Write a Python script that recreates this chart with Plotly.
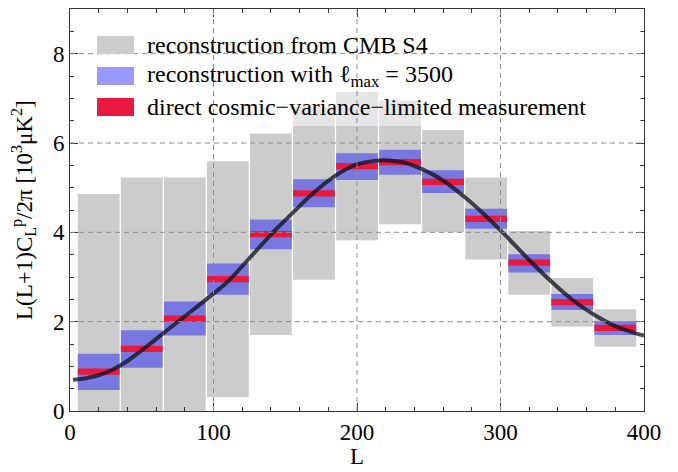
import plotly.graph_objects as go

# ---- data ----
bin_centers = [20, 50, 80, 110, 140, 170, 200, 230, 260, 290, 320, 350, 380]
bin_width = 30
s4_high = [4.86, 5.23, 5.23, 5.59, 6.21, 6.80, 7.14, 6.95, 6.29, 5.23, 4.03, 2.98, 2.28]
s4_low = [-0.5, -0.5, -0.5, 0.31, 1.70, 2.94, 3.82, 4.18, 4.00, 3.39, 2.60, 1.89, 1.44]
lmax_high = [1.28, 1.81, 2.45, 3.30, 4.29, 5.19, 5.77, 5.85, 5.39, 4.53, 3.51, 2.62, 2.01]
lmax_low = [0.47, 0.97, 1.69, 2.60, 3.62, 4.56, 5.17, 5.29, 4.88, 4.08, 3.10, 2.26, 1.70]
cv_value = [0.88, 1.39, 2.07, 2.95, 3.96, 4.87, 5.48, 5.57, 5.13, 4.30, 3.32, 2.44, 1.86]
cv_halfwidth = 0.07

curve_L = [2, 6, 12, 20, 30, 40, 50, 65, 80, 95, 110, 125, 140, 155, 170, 185,
           200, 212, 222, 232, 245, 260, 275, 290, 305, 320, 335, 350, 365,
           380, 392, 400]
curve_val = [0.70, 0.71, 0.74, 0.80, 0.93, 1.12, 1.36, 1.74, 2.12, 2.50, 2.90, 3.42, 3.95,
             4.43, 4.89, 5.27, 5.52, 5.60, 5.61, 5.57, 5.42, 5.16, 4.79, 4.36, 3.88,
             3.38, 2.91, 2.49, 2.16, 1.90, 1.76, 1.69]

x_ticks = [0, 100, 200, 300, 400]
y_ticks = [0, 2, 4, 6, 8]
legend_labels = [
    "reconstruction from CMB S4",
    "reconstruction with \u2113<sub>max</sub> = 3500",
    "direct cosmic\u2212variance\u2212limited measurement",
]

# ---- styles ----
GREY = "#cccccc"
BLUE = "#7878e0"
BLUE_SW = "#9999ff"
RED = "#e8193c"
FONT = "Liberation Serif"
W, H = 678, 472
L_PX, R_PX, T_PX, B_PX = 70, 644, 9, 411

def px_x(p):
    return (p - L_PX) / (R_PX - L_PX)

def px_y(p):
    return 1 - (p - T_PX) / (B_PX - T_PX)

fig = go.Figure()

fig.add_trace(go.Bar(
    x=bin_centers, y=[h - l for h, l in zip(s4_high, s4_low)], base=s4_low,
    width=bin_width - 0.9, marker=dict(color=GREY, line=dict(width=0)),
    showlegend=False, hoverinfo="skip"))
fig.add_trace(go.Bar(
    x=bin_centers, y=[h - l for h, l in zip(lmax_high, lmax_low)], base=lmax_low,
    width=bin_width - 0.9, marker=dict(color=BLUE, line=dict(width=0)),
    showlegend=False, hoverinfo="skip"))
fig.add_trace(go.Bar(
    x=bin_centers, y=[2 * cv_halfwidth] * len(cv_value),
    base=[v - cv_halfwidth for v in cv_value],
    width=bin_width - 0.9, marker=dict(color=RED, line=dict(width=0)),
    showlegend=False, hoverinfo="skip"))
fig.add_trace(go.Scatter(
    x=curve_L, y=curve_val, mode="lines",
    line=dict(color="rgba(15,15,25,0.75)", width=4, shape="spline", smoothing=1.0),
    showlegend=False, hoverinfo="skip"))

shapes = []
shapes.append(dict(type="rect", xref="paper", yref="paper",
                   x0=px_x(90), x1=px_x(641), y0=px_y(126), y1=px_y(20),
                   fillcolor="rgba(255,255,255,0.5)", line=dict(width=0), layer="above"))
for xv in x_ticks[1:-1]:
    shapes.append(dict(type="line", xref="x", yref="paper", x0=xv, x1=xv, y0=0, y1=1,
                       line=dict(color="#8c8c8c", width=1, dash="5px,4px"), layer="above"))
for yv in y_ticks[1:]:
    shapes.append(dict(type="line", xref="paper", yref="y", x0=0, x1=1, y0=yv, y1=yv,
                       line=dict(color="#8c8c8c", width=1, dash="5px,4px"), layer="above"))
sw_colors = [GREY, BLUE_SW, RED]
row_centers = [45, 76, 107]
annotations = []
for c, yc, lab in zip(sw_colors, row_centers, legend_labels):
    shapes.append(dict(type="rect", xref="paper", yref="paper",
                       x0=px_x(97), x1=px_x(134), y0=px_y(yc + 9), y1=px_y(yc - 9),
                       fillcolor=c, line=dict(width=0), layer="above"))
    annotations.append(dict(xref="paper", yref="paper", x=px_x(145), y=px_y(yc),
                            xanchor="left", yanchor="middle", text=lab, showarrow=False,
                            font=dict(family=FONT, size=24, color="black")))

annotations.append(dict(xref="paper", yref="paper", x=0.5, y=px_y(456),
                        xanchor="center", yanchor="middle", text="L", showarrow=False,
                        font=dict(family=FONT, size=23, color="black")))
annotations.append(dict(xref="paper", yref="paper", x=px_x(23), y=0.5,
                        xanchor="center", yanchor="middle", textangle=-90,
                        text="L(L+1)C<sub>L</sub><sup>p</sup>/2\u03c0 [10<sup>3</sup>\u03bcK<sup>2</sup>]",
                        showarrow=False,
                        font=dict(family=FONT, size=23, color="black")))

axis_common = dict(
    showline=True, linecolor="#333333", linewidth=1, mirror="ticks",
    ticks="inside", ticklen=8, tickwidth=1, tickcolor="#333333",
    showgrid=False, zeroline=False, automargin=False,
    tickfont=dict(family=FONT, size=23, color="black"),
)

fig.update_layout(
    width=W, height=H,
    margin=dict(l=L_PX, r=W - R_PX, t=T_PX, b=H - B_PX),
    paper_bgcolor="white", plot_bgcolor="white",
    barmode="overlay",
    shapes=shapes, annotations=annotations,
    xaxis=dict(range=[0, 400], tickvals=x_ticks,
               minor=dict(dtick=20, ticks="inside", ticklen=4, tickcolor="#333333"),
               **axis_common),
    yaxis=dict(range=[0, 9], tickvals=y_ticks,
               minor=dict(dtick=0.5, ticks="inside", ticklen=4, tickcolor="#333333"),
               **axis_common),
)

fig.write_html("out.html", config={"displayModeBar": False},
               post_script="document.body.style.margin='0';document.body.style.overflow='hidden';")
